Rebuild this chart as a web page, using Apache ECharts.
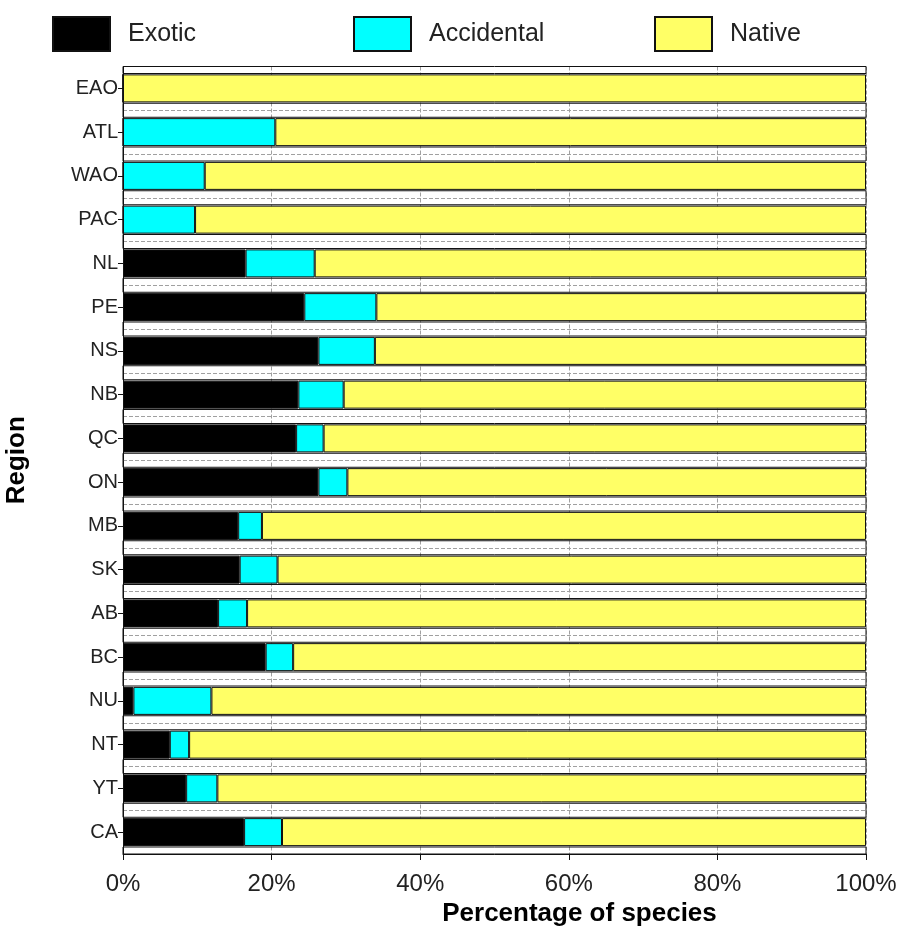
<!DOCTYPE html>
<html>
<head>
<meta charset="utf-8">
<script src="https://cdn.jsdelivr.net/npm/echarts@6/dist/echarts.min.js"></script>
<style>
  html, body { margin: 0; padding: 0; background: #fff; }
  #main { width: 903px; height: 938px; }
</style>
</head>
<body>
<div id="main"></div>
<script>
// regions, top to bottom
var regions = ['EAO', 'ATL', 'WAO', 'PAC', 'NL', 'PE', 'NS', 'NB', 'QC', 'ON',
               'MB', 'SK', 'AB', 'BC', 'NU', 'NT', 'YT', 'CA'];
// percentage of species in each region
var exotic     = [0, 0, 0, 0, 16.5, 24.4, 26.3, 23.6, 23.3, 26.3,
                  15.5, 15.7, 12.8, 19.2, 1.4, 6.3, 8.5, 16.3];
var accidental = [0, 20.5, 11.0, 9.7, 9.3, 9.7, 7.6, 6.1, 3.7, 3.9,
                  3.2, 5.1, 3.9, 3.7, 10.5, 2.6, 4.2, 5.1];
var native = exotic.map(function (e, i) {
    return +(100 - e - accidental[i]).toFixed(1);
});
var xTicks = [0, 20, 40, 60, 80, 100];

// thin outlined strips sitting on the row boundaries
var gaps = [];
for (var i = 0; i <= regions.length; i++) gaps.push('g' + i);

var font = 'Liberation Sans, Arial, sans-serif';
var dashed = { color: '#a0a0a0', type: [4, 2], width: 1 };

var myChart = echarts.init(document.getElementById('main'));

function legendAt(name, left) {
    return {
        data: [name],
        left: left,
        top: 16,
        padding: 0,
        itemWidth: 57,
        itemHeight: 34,
        icon: 'rect',
        textStyle: { fontFamily: font, fontSize: 25, color: '#222', padding: [0, 0, 0, 13] }
    };
}

function stackBar(name, color, values) {
    return {
        name: name,
        type: 'bar',
        stack: 'all',
        barWidth: 28,
        data: values,
        itemStyle: { color: color, borderColor: '#111', borderWidth: 1 }
    };
}

function renderStrip(params, api) {
    var a = api.coord([0, api.value(1)]);
    var b = api.coord([100, api.value(1)]);
    var h = 14;
    var cs = params.coordSys;
    var shape = echarts.graphic.clipRectByRect(
        { x: a[0], y: a[1] - h / 2, width: b[0] - a[0], height: h },
        { x: cs.x, y: cs.y, width: cs.width, height: cs.height }
    );
    if (!shape) return;
    return {
        type: 'rect',
        shape: shape,
        style: { fill: 'none', stroke: '#111', lineWidth: 1 }
    };
}

myChart.setOption({
    animation: false,
    legend: [legendAt('Exotic', 52), legendAt('Accidental', 353), legendAt('Native', 654)],
    grid: {
        left: 123,
        right: 37,
        top: 66.5,
        bottom: 84,
        outerBoundsMode: 'none'
    },
    xAxis: {
        type: 'value',
        min: 0,
        max: 100,
        interval: 20,
        name: 'Percentage of species',
        nameLocation: 'middle',
        nameGap: 35,
        nameTextStyle: { fontFamily: font, fontSize: 26, fontWeight: 'bold', color: '#000', padding: [0, 0, 0, 170] },
        axisLine: { show: true, lineStyle: { color: '#111', width: 1 } },
        axisTick: { show: true, length: 6, lineStyle: { color: '#111' } },
        axisLabel: {
            fontFamily: font, fontSize: 24, color: '#222', margin: 18,
            formatter: function (v) { return xTicks.indexOf(v) >= 0 ? v + '%' : ''; }
        },
        splitLine: { show: true, lineStyle: dashed }
    },
    yAxis: [{
        type: 'category',
        inverse: true,
        data: regions,
        name: 'Region',
        nameLocation: 'middle',
        nameGap: 93,
        nameTextStyle: { fontFamily: font, fontSize: 26, fontWeight: 'bold', color: '#000' },
        axisLine: { show: true, lineStyle: { color: '#111', width: 1 } },
        axisTick: { show: true, alignWithLabel: true, length: 5, lineStyle: { color: '#111' } },
        axisLabel: { fontFamily: font, fontSize: 20, color: '#222', margin: 5 },
        splitLine: { show: true, lineStyle: dashed }
    }, {
        type: 'category',
        inverse: true,
        boundaryGap: false,
        data: gaps,
        show: false
    }],
    series: [
        stackBar('Exotic', '#000000', exotic),
        stackBar('Accidental', '#00ffff', accidental),
        stackBar('Native', '#ffff66', native),
        {
            name: 'strip',
            type: 'custom',
            yAxisIndex: 1,
            silent: true,
            renderItem: renderStrip,
            data: gaps.map(function (g, i) { return [100, i]; })
        }
    ]
});
</script>
</body>
</html>
